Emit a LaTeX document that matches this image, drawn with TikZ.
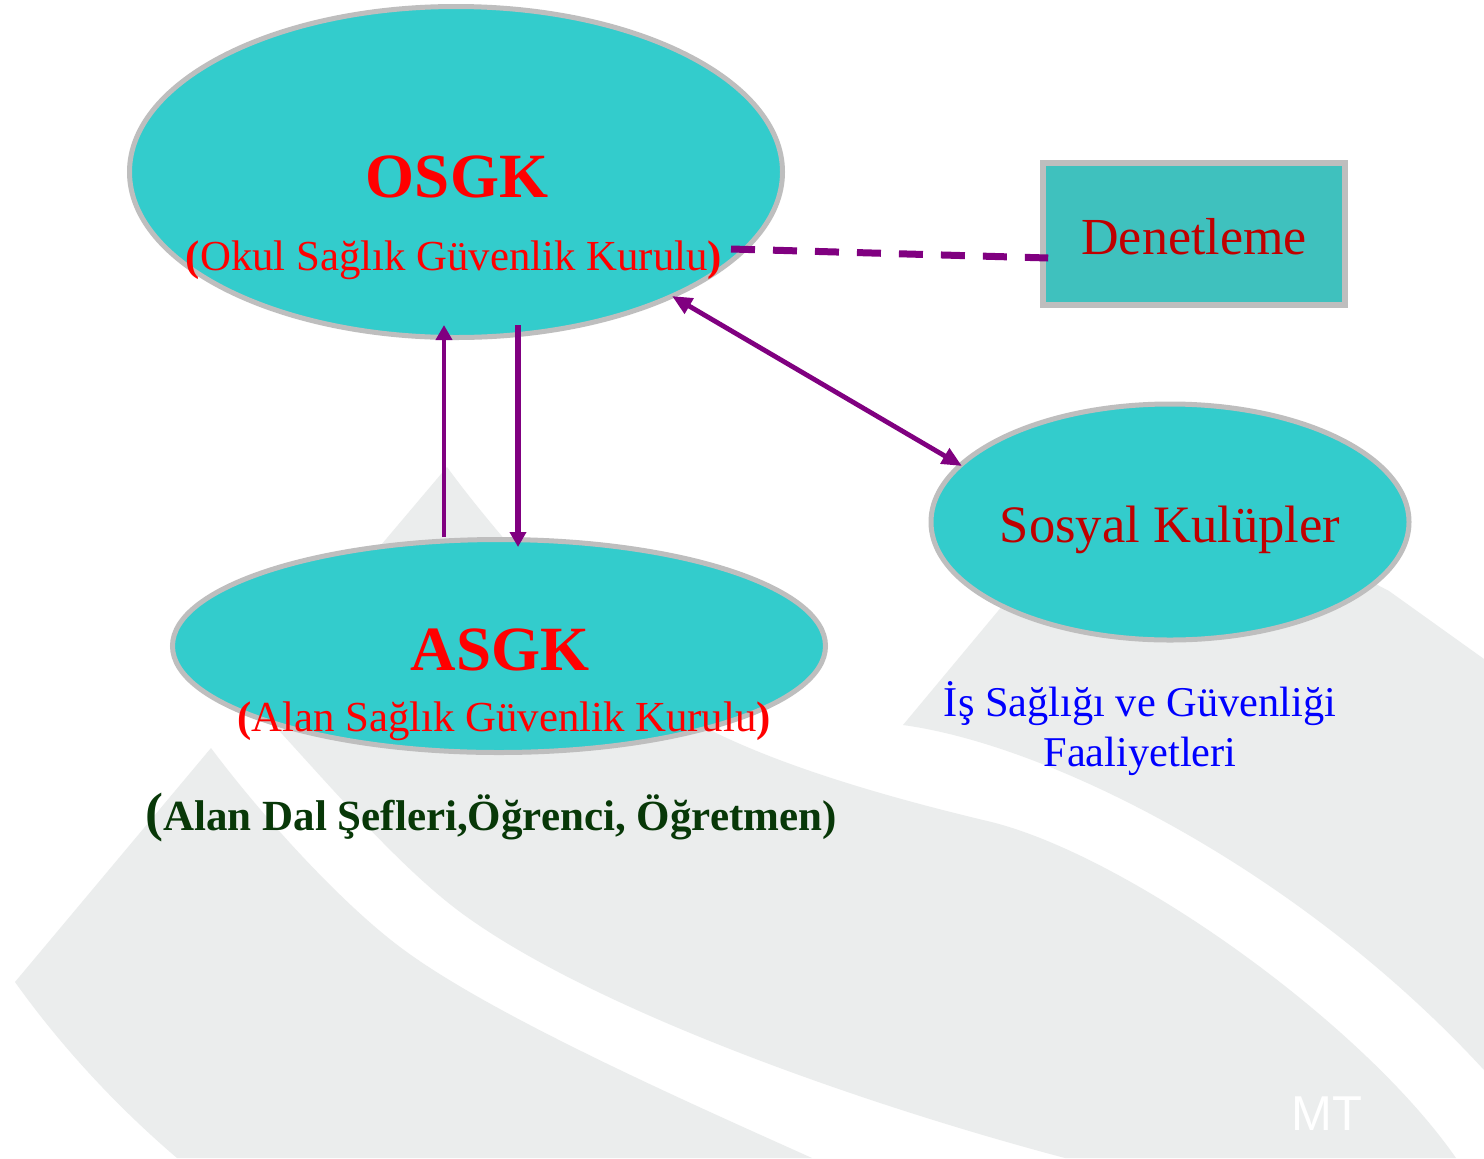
\documentclass[tikz,border=0pt]{standalone}
\usepackage{fontspec}
\setmainfont{Liberation Serif}
\newfontfamily\mtfont{Liberation Sans}
\usetikzlibrary{shapes.geometric,arrows.meta,calc}

\definecolor{tealA}{RGB}{51,204,204}
\definecolor{tealbox}{RGB}{63,193,190}
\definecolor{bordgray}{RGB}{190,190,190}
\definecolor{bggray}{RGB}{235,237,237}
\definecolor{pur}{RGB}{128,0,128}
\definecolor{dred}{RGB}{192,0,0}
\definecolor{dgreen}{RGB}{8,56,8}

\begin{document}
\begin{tikzpicture}[x=0.5pt,y=-0.5pt,
  oval/.style={ellipse, draw=bordgray, fill=tealA, line width=2.5pt, inner sep=0pt},
  txt/.style={anchor=base, inner sep=0pt},
  conn/.style={draw=pur},
  vtip/.style={-{Triangle[length=7.5pt,width=8pt]}},
  dtip/.style={{Triangle[length=10pt,width=8.5pt]}-{Triangle[length=10pt,width=8.5pt]}}
]
\fill[white] (0,0) rectangle (1484,1158);
\useasboundingbox (0,0) rectangle (1484,1158);

% background swooshes
\begin{scope}
\clip (0,0) rectangle (1484,1158);
% lower-left band
\fill[bggray] (211,748) -- (15,982)
  .. controls (60,1045) and (115,1105) .. (177,1158)
  -- (812,1158)
  .. controls (692,1104) and (490,1015) .. (400,947)
  .. controls (340,902) and (261,815) .. (211,748)
  -- cycle;
% middle band
\fill[bggray] (447,467) -- (250,700)
  .. controls (300,750) and (392,864) .. (467,917)
  .. controls (600,1012) and (865,1105) .. (1065,1158)
  -- (1456,1158)
  .. controls (1360,1020) and (1120,850) .. (983,820)
  .. controls (900,800) and (790,770) .. (710,730)
  .. controls (640,700) and (500,540) .. (447,467)
  -- cycle;
% right band
\fill[bggray] (1060,540) -- (998,611) -- (903,725)
  .. controls (1050,745) and (1300,870) .. (1484,1070)
  -- (1484,659) -- (1389,591) -- (1330,560)
  -- cycle;
\end{scope}

\node[txt, text=white, font={\mtfont\fontsize{24.5}{28}\selectfont}] (mt) at (1327,1130) {MT};

% shapes
\node[oval, minimum width=326.5pt, minimum height=165.5pt] (osgk) at (456,172) {};
\node[oval, minimum width=326.5pt, minimum height=106.5pt] (asgk) at (499,646) {};
\node[oval, minimum width=239pt, minimum height=118pt] (sosyal) at (1170,522) {};
\node[draw=bordgray, fill=tealbox, line width=2.8pt, minimum width=151pt, minimum height=71pt, inner sep=0pt] (den) at (1194,234) {};

% texts
\node[txt, text=red, font={\fontsize{31.5}{36}\selectfont\bfseries}] (osgkT) at (457,197) {OSGK};
\node[txt, text=red, font={\fontsize{21.4}{26}\selectfont}] (osgkS) at (454,270) {{\bfseries(}Okul Sağlık Güvenlik Kurulu{\bfseries)}};
\node[txt, text=red, font={\fontsize{31.5}{36}\selectfont\bfseries}] (asgkT) at (500,670) {ASGK};
\node[txt, text=red, font={\fontsize{21.4}{26}\selectfont}] (asgkS) at (504,731) {{\bfseries(}Alan Sağlık Güvenlik Kurulu{\bfseries)}};
\node[txt, text=dred, font={\fontsize{26}{30}\selectfont}] (denT) at (1194,254) {Denetleme};
\node[txt, text=dred, font={\fontsize{26.3}{30}\selectfont}] (sosyalT) at (1170,542) {Sosyal Kulüpler};
\node[txt, text=blue, font={\fontsize{21.2}{25}\selectfont}] (isg1) at (1140,716) {İş Sağlığı ve Güvenliği};
\node[txt, text=blue, font={\fontsize{21.2}{25}\selectfont}] (isg2) at (1140,766) {Faaliyetleri};
\node[txt, text=dgreen, font={\fontsize{21.5}{26}\selectfont\bfseries}] (alan) at (491,830) {{\fontsize{27}{30}\selectfont(}Alan Dal Şefleri,Öğrenci, Öğretmen)};

% connectors
\draw[conn, line width=2.2pt, vtip] ($(asgk.north)+(-55,0)$) -- ($(osgk.south)+(-12,-15)$);
\draw[conn, line width=2.7pt, vtip] ($(osgk.south)+(62,-15)$) -- ($(asgk.north)+(19,10)$);
\draw[conn, line width=2.4pt, dtip] ($(osgk.center)+(216,124)$) -- ($(sosyal.center)+(-208,-56)$);
\draw[pur, line width=3.5pt, dash pattern=on 12pt off 9pt] ($(osgk.center)+(275,77)$) -- ($(den.west)+(8,24)$);
\end{tikzpicture}
\end{document}
